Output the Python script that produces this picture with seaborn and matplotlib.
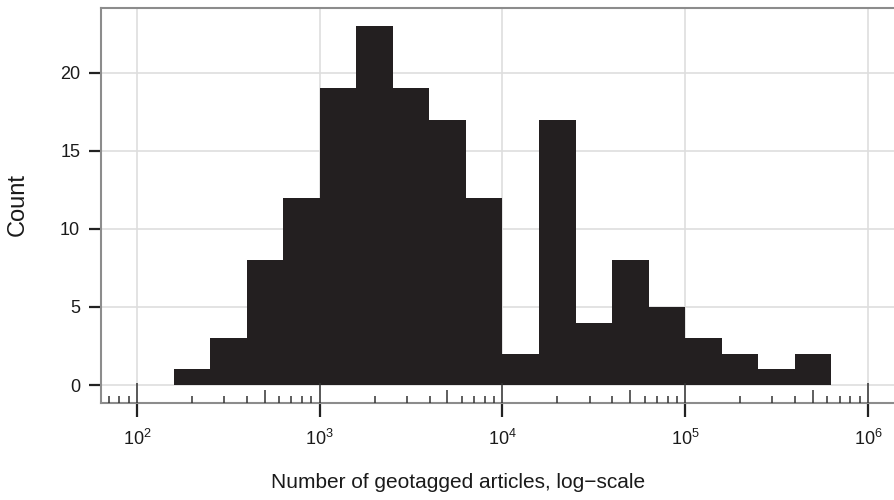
import numpy as np
import pandas as pd
import matplotlib
matplotlib.use("Agg")
import matplotlib.pyplot as plt
import matplotlib.transforms as mtransforms
import seaborn as sns

# ---- data (log10 of bin left edges, counts per bin) ----
bin_left_log10 = [2.2, 2.4, 2.6, 2.8, 3.0, 3.2, 3.4, 3.6, 3.8, 4.0,
                  4.2, 4.4, 4.6, 4.8, 5.0, 5.2, 5.4, 5.6]
counts = [1, 3, 8, 12, 19, 23, 19, 17, 12, 2,
          17, 4, 8, 5, 3, 2, 1, 2]
bin_width_log10 = 0.2
y_ticks = [0, 5, 10, 15, 20]
x_ticks = [1e2, 1e3, 1e4, 1e5, 1e6]
x_label = "Number of geotagged articles, log\u2212scale"
y_label = "Count"

df = pd.DataFrame({
    "articles": 10 ** (np.array(bin_left_log10) + bin_width_log10 / 2),
    "n": counts,
})

sns.set_theme(style="whitegrid")
plt.rcParams["font.family"] = ["Liberation Sans", "DejaVu Sans"]
plt.rcParams["mathtext.fontset"] = "custom"
plt.rcParams["mathtext.rm"] = "Liberation Sans"
plt.rcParams["mathtext.it"] = "Liberation Sans:italic"
plt.rcParams["mathtext.bf"] = "Liberation Sans:bold"

W, H = 895, 500
fig = plt.figure(figsize=(W / 100, H / 100), dpi=100)
ax = fig.add_axes([101 / W, (H - 403) / H, (W - 101) / W, (403 - 8) / H])

sns.histplot(
    data=df, x="articles", weights="n",
    binwidth=bin_width_log10,
    binrange=(bin_left_log10[0], bin_left_log10[-1] + bin_width_log10),
    log_scale=True, color="#231f20", alpha=1, linewidth=0,
    edgecolor="none", ax=ax, zorder=2,
)

ax.set_xlim(10 ** 1.803, 10 ** 6.148)
ax.set_ylim(-1.15, 24.15)
ax.set_xticks(x_ticks)
ax.set_yticks(y_ticks)
ax.xaxis.set_minor_locator(matplotlib.ticker.NullLocator())

ax.grid(True, which="major", color="#dedede", linewidth=1.2, zorder=0)
ax.set_axisbelow(True)

for side in ["left", "top", "bottom"]:
    ax.spines[side].set_visible(True)
    ax.spines[side].set_color("#8c8c8c")
    ax.spines[side].set_linewidth(1.5)
ax.spines["right"].set_visible(False)

ax.tick_params(axis="both", which="major", direction="out", color="#222222",
               width=1.6, labelcolor="#1a1a1a")
ax.tick_params(axis="y", length=9, pad=6, left=True, labelsize=13)
ax.tick_params(axis="x", length=10, pad=9, bottom=True, labelsize=13)

# log ticks (annotation_logticks style) inside the panel at the bottom
trans = mtransforms.blended_transform_factory(ax.transData, ax.transAxes)
lo_dec, hi_dec = 1, 7
for d in range(lo_dec, hi_dec):
    for m in range(1, 10):
        v = m * 10 ** d
        if m == 1:
            h = 20 / 395
        elif m == 5:
            h = 13 / 395
        else:
            h = 7 / 395
        ax.plot([v, v], [0, h], transform=trans, color="#333333",
                linewidth=1.1, clip_on=True, zorder=3, solid_capstyle="butt")

ax.set_xlabel(x_label, fontsize=15, color="#1a1a1a")
ax.set_ylabel(y_label, fontsize=17, color="#1a1a1a")
ax.xaxis.set_label_coords((458 - 101) / (W - 101), (403 - 473) / 395)
ax.yaxis.set_label_coords((29 - 101) / (W - 101), (403 - 204) / 395)

fig.savefig("out.png", dpi=100)
